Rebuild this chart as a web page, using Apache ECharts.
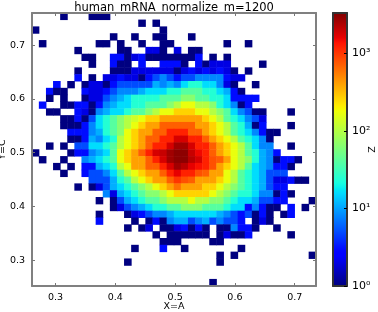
<!DOCTYPE html>
<html><head><meta charset="utf-8">
<script src="https://cdn.jsdelivr.net/npm/echarts@6/dist/echarts.min.js"></script>
<style>html,body{margin:0;padding:0;background:#fff}#c{width:378px;height:312px}</style>
</head><body><div id="c"></div>
<script>
const titleText = 'human_mRNA_normalize_m=1200';
const xLabel = 'X=A', yLabel = 'Y=C', zLabel = 'Z';
const xTicks = [0.3, 0.4, 0.5, 0.6, 0.7];
const yTicks = [0.3, 0.4, 0.5, 0.6, 0.7];
const zDecades = [0, 1, 2, 3];
const zLabels = ['10\u2070', '10\u00b9', '10\u00b2', '10\u00b3'];
const xRange = [0.2606, 0.7356];
const yRange = [0.2520, 0.7600];
const zMax = 3300;
// counts per cell, top row first, left column first; 0 means empty
const counts = [
[0,0,0,0,1,0,0,0,1,1, 1,0,0,0,0,0,0,0,0,0, 0,0,0,0,0,0,0,0,0,0, 0,0,0,0,0,0,0,0,0,0],
[0,0,0,0,0,0,0,0,0,0, 0,0,0,0,0,1,0,1,0,0, 0,0,0,0,0,0,0,0,0,0, 0,0,0,0,0,0,0,0,0,0],
[1,0,0,0,0,0,0,0,0,0, 0,0,0,0,0,0,0,0,1,0, 0,0,0,0,0,0,0,0,0,0, 0,0,0,0,0,0,0,0,0,0],
[0,0,0,0,0,0,0,0,0,0, 0,1,0,0,1,0,0,1,1,0, 0,0,1,0,0,0,0,0,0,0, 0,0,0,0,0,0,0,0,0,0],
[0,1,0,0,0,0,0,0,0,1, 1,0,1,0,0,1,0,0,1,1, 0,0,0,0,0,0,0,1,0,0, 1,0,0,0,0,0,0,0,0,0],
[0,0,0,0,0,0,1,0,0,0, 0,0,1,1,0,0,2,2,1,0, 2,0,1,1,0,0,0,0,0,0, 0,0,0,0,0,0,0,0,0,0],
[0,0,0,0,0,0,0,1,1,0, 0,3,3,1,2,3,1,1,1,1, 1,1,1,3,0,1,0,1,0,0, 0,0,0,0,0,0,0,0,0,0],
[0,0,0,0,0,0,0,0,1,0, 0,3,1,1,0,3,0,0,3,3, 3,1,0,3,1,2,2,2,0,0, 0,0,1,0,0,0,0,0,0,0],
[0,0,0,0,0,0,1,0,0,0, 0,1,1,1,2,2,2,2,2,2, 1,2,3,2,3,2,3,2,1,0, 1,0,0,0,0,0,0,0,0,0],
[0,0,0,0,0,0,3,0,1,0, 2,2,3,2,2,1,3,5,8,5, 3,5,5,8,8,8,8,3,2,2, 0,0,0,0,0,0,0,0,0,0],
[0,0,0,3,0,1,0,1,2,2, 1,3,5,5,5,5,5,11,8,11, 8,16,24,24,16,16,8,2,1,0, 0,1,0,0,0,0,0,0,0,0],
[0,0,3,1,1,0,0,3,2,2, 3,5,8,8,8,11,16,16,16,24, 24,40,40,40,24,24,16,11,3,1, 0,0,0,0,0,0,0,0,0,0],
[0,0,1,0,1,0,0,1,2,2, 5,8,11,16,24,24,24,24,40,40, 40,65,65,40,40,24,24,16,3,3, 3,3,0,0,0,0,0,0,0,0],
[0,3,0,0,1,1,3,3,1,3, 8,11,16,16,24,24,40,40,40,65, 100,170,170,100,100,65,24,16,8,1, 3,0,0,0,0,0,0,0,0,0],
[0,0,1,1,0,0,3,2,1,8, 11,16,16,24,40,40,65,100,170,170, 260,260,260,170,170,100,65,40,16,8, 5,1,1,0,0,0,1,0,0,0],
[0,0,0,0,1,1,3,1,5,16, 24,40,65,100,130,170,260,260,400,400, 400,400,400,400,260,170,100,40,24,16, 8,5,2,0,0,0,0,0,0,0],
[0,0,0,0,1,1,1,3,8,16, 24,40,65,100,170,260,400,400,700,700, 700,700,700,400,400,260,170,100,40,24, 11,1,3,0,0,0,1,0,0,0],
[0,0,0,0,0,3,3,3,8,11, 24,40,65,170,260,400,400,700,700,1200, 1200,1200,700,700,400,260,170,100,40,24, 16,8,3,1,1,0,0,0,0,0],
[0,0,0,0,0,1,1,3,11,8, 16,24,100,170,260,400,700,700,1200,1200, 1800,1800,1200,1200,700,400,260,170,100,40, 24,16,8,1,0,0,0,0,0,0],
[0,0,1,0,1,0,5,5,16,16, 24,40,100,170,260,400,700,1200,1200,1800, 2600,2600,1800,1200,1200,700,400,260,170,100, 40,16,8,8,0,0,1,0,0,0],
[1,0,0,0,0,1,3,3,8,11, 16,40,170,260,400,700,1200,1800,2000,2600, 3000,3000,2000,1500,1200,700,400,260,170,100, 40,24,11,8,3,0,0,0,0,0],
[0,1,0,0,1,0,0,8,11,16, 24,40,170,260,400,400,700,1200,1800,2600, 3000,3000,2200,1800,1200,800,700,400,170,100, 65,24,11,8,1,3,3,1,0,0],
[0,0,0,1,0,1,0,3,3,11, 16,24,100,170,400,400,700,700,1200,1800, 2600,2200,1600,1400,1200,800,400,260,170,100, 40,16,11,8,3,3,1,0,0,0],
[0,0,0,0,1,0,0,3,5,5, 8,16,40,100,170,260,400,400,700,1200, 1600,1200,1200,800,700,400,400,170,100,40, 24,16,11,5,5,5,0,0,0,0],
[0,0,0,0,0,0,0,0,5,5, 5,11,24,40,100,170,260,400,400,700, 1000,800,700,400,400,400,260,170,100,40, 24,16,11,5,2,2,3,1,1,0],
[0,0,0,0,0,0,1,0,1,2, 5,11,16,24,40,65,100,170,260,400, 600,400,400,400,260,260,170,100,65,40, 24,16,11,5,3,3,0,0,0,0],
[0,0,0,0,0,0,0,0,0,0, 8,2,11,16,24,40,65,65,100,170, 260,260,260,260,260,170,100,65,40,24, 24,16,8,8,1,3,1,0,0,0],
[0,0,0,0,0,0,0,0,0,1, 0,1,5,11,16,24,40,40,65,100, 100,100,170,100,100,65,65,40,24,16, 16,11,5,5,3,3,0,0,0,1],
[0,0,0,0,0,0,0,0,0,0, 0,1,2,5,8,11,16,24,24,40, 40,65,65,65,40,40,40,24,16,16, 3,8,3,1,1,0,3,0,1,0],
[0,0,0,0,0,0,0,0,0,1, 0,0,0,1,2,3,5,8,8,11, 16,16,16,16,16,16,11,8,5,3, 5,1,3,1,0,1,3,0,0,0],
[0,0,0,0,0,0,0,0,0,3, 0,0,0,0,1,0,1,3,1,8, 11,11,5,8,11,5,8,5,5,3, 0,1,2,1,0,0,0,0,0,0],
[0,0,0,0,0,0,0,0,0,0, 0,0,0,1,0,1,2,0,1,1, 2,3,1,3,1,0,1,1,8,3, 3,1,0,0,1,0,0,0,0,0],
[0,0,0,0,0,0,0,0,0,0, 0,0,0,0,0,0,0,1,0,1, 1,1,1,1,1,0,1,2,1,1, 3,0,0,0,0,0,1,0,0,0],
[0,0,0,0,0,0,0,0,0,0, 0,0,0,0,0,0,0,0,1,1, 1,0,0,0,0,1,1,0,0,0, 0,0,0,0,0,0,0,0,0,0],
[0,0,0,0,0,0,0,0,0,0, 0,0,0,0,1,0,0,0,3,0, 0,1,0,0,0,0,0,0,0,1, 0,0,0,0,0,0,0,0,0,0],
[0,0,0,0,0,0,0,0,0,0, 0,0,0,0,0,0,0,0,0,0, 0,0,0,0,0,0,1,0,1,0, 0,0,0,0,0,0,0,0,0,1],
[0,0,0,0,0,0,0,0,0,0, 0,0,0,1,0,0,0,0,0,0, 0,0,0,0,0,0,1,0,0,0, 0,0,0,0,0,0,0,0,0,0],
[0,0,0,0,0,0,0,0,0,0, 0,0,0,0,0,0,0,0,0,0, 0,0,0,0,0,0,0,0,0,0, 0,0,0,0,0,0,0,0,0,0],
[0,0,0,0,0,0,0,0,0,0, 0,0,0,0,0,0,0,0,0,0, 0,0,0,0,0,0,0,0,0,0, 0,0,0,0,0,0,0,0,0,0],
[0,0,0,0,0,0,0,0,0,0, 0,0,0,0,0,0,0,0,0,0, 0,0,0,0,0,1,0,0,0,0, 0,0,0,0,0,0,0,0,0,0]
];

const FONT = 'DejaVu Sans';
const FRAME = '#808080';
const cells = [];
counts.forEach((row, r) => row.forEach((v, c) => { if (v > 0) cells.push([c, r, Math.log10(v), v]); }));
const colIdx = counts[0].map((_, i) => i);
const rowIdx = counts.map((_, i) => i);

function seg(t, pts) {
  for (let i = 1; i < pts.length; i++) {
    if (t <= pts[i][0]) {
      const a = pts[i - 1], b = pts[i];
      return a[1] + (b[1] - a[1]) * (t - a[0]) / (b[0] - a[0]);
    }
  }
  return pts[pts.length - 1][1];
}
const jet = [];
for (let i = 0; i <= 100; i++) {
  const t = i / 100;
  const r = seg(t, [[0,0],[.35,0],[.66,1],[.89,1],[1,.5]]);
  const g = seg(t, [[0,0],[.125,0],[.375,1],[.64,1],[.91,0],[1,0]]);
  const b = seg(t, [[0,.5],[.11,1],[.34,1],[.65,0],[1,0]]);
  jet.push(`rgb(${Math.round(r*255)},${Math.round(g*255)},${Math.round(b*255)})`);
}

const lab = { color:'#000', fontFamily:FONT, fontSize:9.5 };
function frameAxis(extra, ticks, showLabel, color) {
  return Object.assign({
    type:'value', z:10, splitLine:{show:false}, nameMoveOverlap:false,
    axisLine:{show:true, onZero:false, lineStyle:{color:color||FRAME, width:2}},
    axisTick:{show:ticks.length>0, inside:true, length:3, customValues:ticks, lineStyle:{color:'#777',width:1}},
    axisLabel:Object.assign({show:showLabel, customValues:ticks, margin:7}, lab)
  }, extra);
}

const chart = echarts.init(document.getElementById('c'), null, {renderer:'canvas'});
chart.setOption({
  animation:false,
  backgroundColor:'#fff',
  title:{ text:titleText, left:169, top:-3, textAlign:'center',
    textStyle:{color:'#000', fontFamily:FONT, fontSize:11.5, fontWeight:'normal'} },
  grid:[
    {left:32, top:13, width:284, height:273, containLabel:false, outerBoundsMode:'none'},
    {left:333, top:13, width:14, height:273, containLabel:false, outerBoundsMode:'none'}
  ],
  xAxis:[
    {type:'category', gridIndex:0, data:colIdx, show:false},
    frameAxis({gridIndex:0, position:'bottom', min:xRange[0], max:xRange[1], name:xLabel, nameLocation:'middle', nameGap:16,
      nameTextStyle:{color:'#000', fontFamily:FONT, fontSize:9.5}}, xTicks, true),
    frameAxis({gridIndex:0, position:'top', min:xRange[0], max:xRange[1]}, xTicks, false),
    frameAxis({gridIndex:1, position:'bottom', min:0, max:1}, [], false, '#333'),
    frameAxis({gridIndex:1, position:'top', min:0, max:1}, [], false, '#333')
  ],
  yAxis:[
    {type:'category', gridIndex:0, data:rowIdx, inverse:true, show:false},
    frameAxis({gridIndex:0, position:'left', min:yRange[0], max:yRange[1], name:yLabel, nameLocation:'middle', nameGap:24,
      nameTextStyle:{color:'#000', fontFamily:FONT, fontSize:9.5}}, yTicks, true),
    frameAxis({gridIndex:0, position:'right', min:yRange[0], max:yRange[1]}, yTicks, false),
    frameAxis({gridIndex:1, position:'left', min:0, max:Math.log10(zMax)}, [], false, '#333'),
    frameAxis({gridIndex:1, position:'right', min:0, max:Math.log10(zMax), name:zLabel, nameLocation:'middle', nameGap:21, nameRotate:90,
      nameTextStyle:{color:'#000', fontFamily:FONT, fontSize:9.5},
      axisTick:{show:true, inside:true, length:3, customValues:zDecades, lineStyle:{color:'#000'}},
      axisLabel:Object.assign({show:true, customValues:zDecades, margin:5, formatter:(v)=>zLabels[Math.round(v)]}, lab, {fontSize:11})
    }, zDecades, true, '#333')
  ],
  visualMap:{
    type:'continuous', seriesIndex:0, dimension:2, min:0, max:Math.log10(zMax),
    left:333, top:13, itemWidth:14, itemHeight:273, padding:0, text:null, showLabel:false,
    calculable:false, realtime:false, hoverLink:false, inRange:{color:jet}, z:4
  },
  series:[{
    type:'heatmap', xAxisIndex:0, yAxisIndex:0, data:cells, encode:{x:0,y:1},
    progressive:0, itemStyle:{borderWidth:0}, emphasis:{disabled:true}
  }]
});
</script></body></html>
